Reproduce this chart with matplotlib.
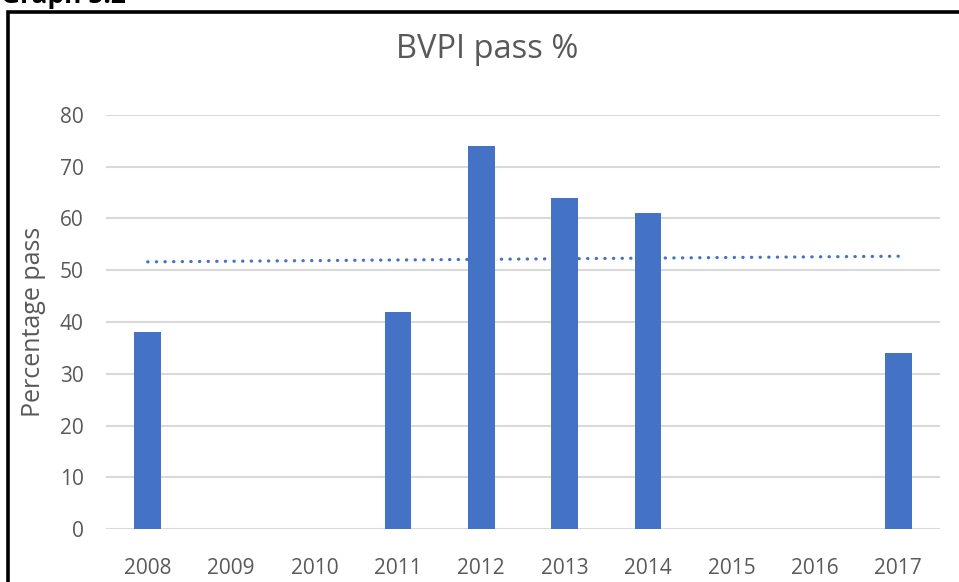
import numpy as np
import matplotlib
matplotlib.use("Agg")
from matplotlib import pyplot as plt
from matplotlib.patches import Rectangle

# BVPI pass % per year (None = no data)
years = ["2008", "2009", "2010", "2011", "2012", "2013", "2014", "2015", "2016", "2017"]
pass_pct = [38, None, None, 42, 74, 64, 61, None, None, 34]
y_ticks = [0, 10, 20, 30, 40, 50, 60, 70, 80]

plt.rcParams['font.family'] = ['Open Sans', 'DejaVu Sans']
grey = "#595959"
blue = "#4472C4"

fig = plt.figure(figsize=(9.59, 5.82), dpi=100)
ax = fig.add_axes([106/959, 53/582, 834/959, 414/582])

x = np.arange(len(years))
heights = [v if v is not None else 0 for v in pass_pct]
ax.bar(x, heights, width=0.32, color=blue, zorder=3)

# linear trendline over the years that have data
xs = np.array([i for i, v in enumerate(pass_pct) if v is not None])
ys = np.array([v for v in pass_pct if v is not None])
k, b = np.polyfit(xs, ys, 1)
ax.plot([x[0], x[-1]], [k*x[0]+b, k*x[-1]+b], color=blue, lw=2.3,
        linestyle=(0, (0.1, 2.6)), dash_capstyle='round', zorder=4)

ax.set_xlim(-0.5, len(years)-0.5)
ax.set_ylim(0, 80)
ax.set_yticks(y_ticks)
ax.set_xticks(x)
ax.set_xticklabels(years)
ax.tick_params(length=0, labelsize=15, colors=grey)
ax.tick_params(axis='y', pad=16)
ax.tick_params(axis='x', pad=21)
ax.grid(axis='y', color="#D9D9D9", lw=1.5, zorder=0)
for s in ax.spines.values():
    s.set_visible(False)

ax.set_ylabel("Percentage pass", fontsize=18, color=grey, labelpad=10)
fig.text(487/959, 1-50/582, "BVPI pass %", fontsize=23.5, color=grey,
         ha='center', va='center')

# outer border and cut-off caption
fig.patches.append(Rectangle((8/959, -0.1), 1.2, 1.1-11.5/582, transform=fig.transFigure,
                             fill=False, ec="black", lw=2.6, zorder=10))
fig.text(1/959, 1-3/582, "Graph 5.2", fontsize=19, fontweight='bold',
         color="black", ha='left', va='baseline')

plt.savefig("out.png", dpi=100)
